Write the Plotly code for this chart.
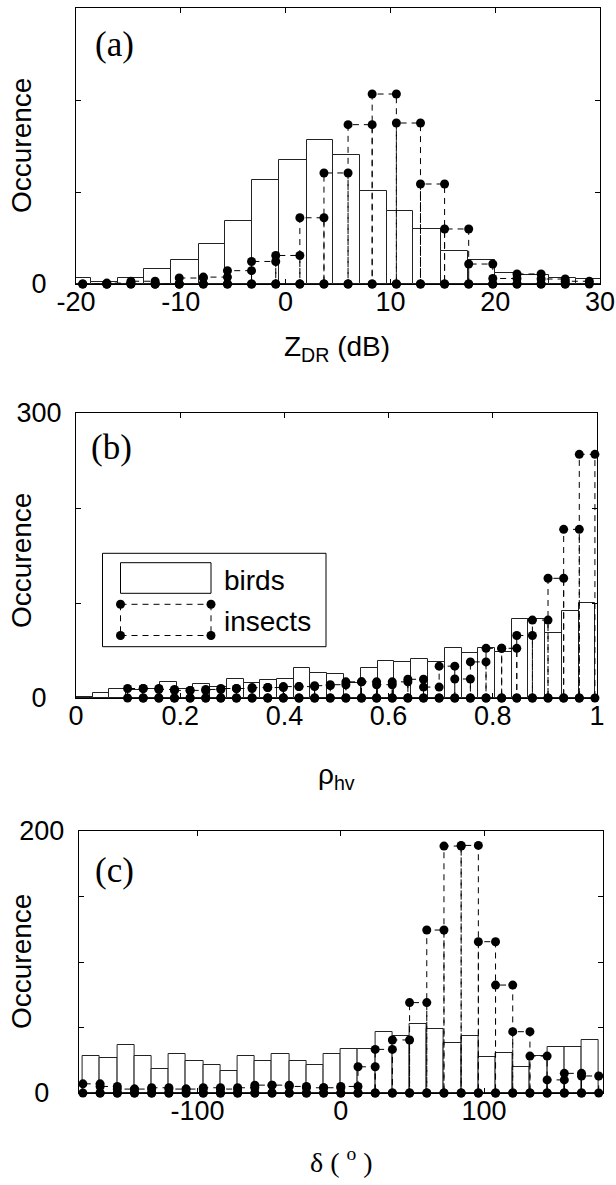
import numpy as np
import plotly.graph_objects as go

W, H = 616, 1185

# ---------------- data ----------------
# (a) Z_DR (dB)
zdr_bird_edges = [-21.2, -18.6, -16.0, -13.5, -10.9, -8.3, -5.8, -3.2, -0.6, 2.0, 4.5,
                  7.1, 9.7, 12.2, 14.8, 17.4, 20.0, 22.5, 25.1, 27.7, 30.2]
zdr_birds = [6, 2, 6.5, 16, 26, 43, 69, 113, 135, 156, 140, 101, 79, 60, 36, 26, 12, 9.7, 6.5, 5.2]
zdr_insect_edges = [-19.36, -17.06, -14.76, -12.45, -10.15, -7.85, -5.55, -3.25, -0.94, 1.36, 3.66,
                    5.96, 8.26, 10.57, 12.87, 15.17, 17.47, 19.77, 22.08, 24.38, 26.68, 28.98]
zdr_insects = [0, 1, 3, 0, 6.5, 7.5, 14.5, 24.5, 31, 72, 120.7, 173.2, 206.5, 175, 108.7,
               59.8, 21.7, 6, 10.9, 5.4, 3]

# (b) rho_hv
rho_bird_edges = [0.000, 0.032, 0.064, 0.096, 0.129, 0.161, 0.193, 0.225, 0.257, 0.289, 0.322,
                  0.354, 0.386, 0.418, 0.450, 0.482, 0.515, 0.547, 0.579, 0.611, 0.643, 0.675,
                  0.708, 0.740, 0.772, 0.804, 0.836, 0.868, 0.900, 0.933, 0.965, 0.997]
rho_birds = [1.5, 5, 9, 8, 10, 17, 10, 14.7, 12, 19.7, 15.4, 19, 19.7, 31.2, 26.7, 25, 16,
             31.2, 39.3, 38.2, 40.7, 38.2, 52.3, 47.7, 52.3, 48, 83, 83.6, 68.8, 92, 99.6]
rho_insect_edges = [0.099, 0.129, 0.159, 0.189, 0.219, 0.249, 0.278, 0.308, 0.338, 0.368, 0.398,
                    0.428, 0.458, 0.488, 0.518, 0.548, 0.577, 0.607, 0.637, 0.667, 0.697, 0.727,
                    0.757, 0.787, 0.817, 0.846, 0.876, 0.906, 0.936, 0.966, 0.996]
rho_insects = [10, 10, 9, 8, 8, 9, 10, 10, 11, 11, 12, 12, 13, 14, 17, 17, 14, 17, 19.7, 11.5,
               33.5, 20, 38, 52.3, 52.3, 65.8, 82, 126, 177.5, 256.5]

# (c) delta (deg)
delta_edges = [-180, -168, -156, -144, -132, -120, -108, -96, -84, -72, -60, -48, -36, -24, -12, 0,
               12, 24, 36, 48, 60, 72, 84, 96, 108, 120, 132, 144, 156, 168, 180]
delta_birds = [28.2, 26.5, 36.6, 28.2, 18, 29.8, 24.7, 21.4, 16.8, 28.2, 24.7, 29.8, 24.7, 21.4,
               29.8, 33.3, 33.3, 46.8, 43.5, 52.7, 48.6, 38.4, 43.5, 27.2, 30.3, 20, 28.2, 35.4,
               35.4, 40.5]
delta_insects = [7, 5, 3, 3, 4, 3, 3, 4, 3, 4, 6, 6, 5, 4, 4, 5, 20, 33.3, 40.5, 69, 124.4, 188.5,
                 189, 115.5, 82.4, 46.8, 28.2, 10, 15, 13]

# tick labels
zdr_ticks = [-20, -10, 0, 10, 20, 30]
zdr_ticktext = ["-20", "-10", "0", "10", "20", "30"]
rho_ticks = [0, 0.2, 0.4, 0.6, 0.8, 1]
rho_ticktext = ["0", "0.2", "0.4", "0.6", "0.8", "1"]
delta_ticks = [-100, 0, 100]
delta_ticktext = ["-100", "0", "100"]
ZERO = "0\u00a0\u00a0"   # zero label sits a little further from the axis, as in the reference

SANS = "Liberation Sans, Arial, sans-serif"
SERIF = "Liberation Serif, Times New Roman, serif"


def fx(px):
    return px / W


def fy(py):
    return 1 - py / H


def bird_trace(edges, vals, n):
    e = np.asarray(edges, float)
    return go.Bar(x=e[:-1], y=vals, width=np.diff(e), offset=0,
                  marker=dict(color="white", line=dict(color="#222222", width=1)),
                  xaxis="x" + n, yaxis="y" + n, showlegend=False, hoverinfo="skip")


def insect_trace(edges, vals, n):
    xs, ys = [], []
    for l, r, h in zip(edges[:-1], edges[1:], vals):
        xs += [l, l, r, r]
        ys += [0, h, h, 0]
    return go.Scatter(x=xs, y=ys, mode="lines+markers",
                      line=dict(color="black", width=1, dash="6px,5px"),
                      marker=dict(color="black", size=9),
                      cliponaxis=False, xaxis="x" + n, yaxis="y" + n,
                      showlegend=False, hoverinfo="skip")


fig = go.Figure()
fig.add_trace(bird_trace(zdr_bird_edges, zdr_birds, ""))
fig.add_trace(insect_trace(zdr_insect_edges, zdr_insects, ""))
fig.add_trace(bird_trace(rho_bird_edges, rho_birds, "2"))
fig.add_trace(insect_trace(rho_insect_edges, rho_insects, "2"))
fig.add_trace(bird_trace(delta_edges, delta_birds, "3"))
fig.add_trace(insect_trace(delta_edges, delta_insects, "3"))

axis_common = dict(showline=True, linecolor="black", linewidth=1, mirror="ticks",
                   ticks="inside", ticklen=5, tickcolor="black", tickwidth=1,
                   showgrid=False, zeroline=False, automargin=False,
                   ticklabeloverflow="allow",
                   tickfont=dict(family=SANS, size=27, color="black"))
minor_common = dict(ticks="inside", ticklen=5, tickcolor="black", tickwidth=1, showgrid=False)

# panel pixel boxes: (left, right, top, bottom)
A = (76, 600, 8, 284)
B = (76, 597, 413, 698)
C = (78.6, 603, 831, 1093)

XSO = -6  # x tick label standoff
YSO = 8   # y tick label standoff

fig.update_layout(
    template="none",
    width=W, height=H, margin=dict(l=0, r=0, t=0, b=0, pad=0, autoexpand=False),
    paper_bgcolor="white", plot_bgcolor="white", bargap=0, barmode="overlay",
    xaxis=dict(axis_common, domain=[fx(A[0]), fx(A[1])], range=[-20, 30], anchor="y",
               tickvals=zdr_ticks, ticktext=zdr_ticktext, ticklabelstandoff=XSO),
    yaxis=dict(axis_common, domain=[fy(A[3]), fy(A[2])], range=[0, 300], anchor="x",
               tickvals=[0], ticktext=[ZERO], ticklabelstandoff=YSO,
               minor=dict(minor_common, tickvals=[100, 200])),
    xaxis2=dict(axis_common, domain=[fx(B[0]), fx(B[1])], range=[0, 1], anchor="y2",
                tickvals=rho_ticks, ticktext=rho_ticktext, ticklabelstandoff=XSO),
    yaxis2=dict(axis_common, domain=[fy(B[3]), fy(B[2])], range=[0, 300], anchor="x2",
                tickvals=[0, 300], ticktext=[ZERO, "300"], ticklabelstandoff=YSO,
                minor=dict(minor_common, tickvals=[100, 200])),
    xaxis3=dict(axis_common, domain=[fx(C[0]), fx(C[1])], range=[-183, 183], anchor="y3",
                tickvals=delta_ticks, ticktext=delta_ticktext, ticklabelstandoff=XSO),
    yaxis3=dict(axis_common, domain=[fy(C[3]), fy(C[2])], range=[0, 200], anchor="x3",
                tickvals=[0, 200], ticktext=[ZERO, "200"], ticklabelstandoff=YSO,
                minor=dict(minor_common, tickvals=[50, 100, 150])),
)

ann = []


def text(x, y, s, size=28, family=SANS, angle=0, xanchor="center"):
    ann.append(dict(x=fx(x), y=fy(y), xref="paper", yref="paper", text=s, showarrow=False,
                    font=dict(family=family, size=size, color="black"), textangle=angle,
                    xanchor=xanchor, yanchor="middle"))


# y titles
text(21, 146, "Occurence", angle=-90)
text(21, 561, "Occurence", angle=-90)
text(21, 962, "Occurence", angle=-90)
# x titles
text(337, 348, "Z<sub>DR</sub> (dB)")
text(336, 776, "ρ<sub>hv</sub>")
text(341, 1160, "δ ( <sup>o</sup> )", family=SERIF)
# panel labels
text(114, 45, "(a)", size=35, family=SERIF)
text(111, 447, "(b)", size=35, family=SERIF)
text(114, 870, "(c)", size=35, family=SERIF)
# legend text
text(222, 580, "birds", xanchor="left")
text(222, 621, "insects", xanchor="left")

shapes = []


def rect(x0, y0, x1, y1, dash="solid"):
    shapes.append(dict(type="rect", xref="paper", yref="paper", x0=fx(x0), x1=fx(x1),
                       y0=fy(y1), y1=fy(y0), line=dict(color="black", width=1, dash=dash),
                       fillcolor="white", layer="above"))


def line(x0, y0, x1, y1, dash="solid"):
    shapes.append(dict(type="line", xref="paper", yref="paper", x0=fx(x0), x1=fx(x1),
                       y0=fy(y0), y1=fy(y1), line=dict(color="black", width=1, dash=dash),
                       layer="above"))


def dot(x, y, r=4.5):
    shapes.append(dict(type="circle", xref="paper", yref="paper", x0=fx(x - r), x1=fx(x + r),
                       y0=fy(y + r), y1=fy(y - r), line=dict(color="black", width=0),
                       fillcolor="black", layer="above"))


# legend in panel (b)
rect(102.5, 553.3, 326, 646.7)
rect(120.5, 562.7, 211, 593.3)
line(120.5, 604.3, 211, 604.3, dash="6px,5px")
line(120.5, 635.5, 211, 635.5, dash="6px,5px")
line(120.5, 604.3, 120.5, 635.5, dash="6px,5px")
line(211, 604.3, 211, 635.5, dash="6px,5px")
for (px_, py_) in [(120.5, 604.3), (211, 604.3), (120.5, 635.5), (211, 635.5)]:
    dot(px_, py_)

fig.update_layout(annotations=ann, shapes=shapes)
fig.write_html("out.html")
